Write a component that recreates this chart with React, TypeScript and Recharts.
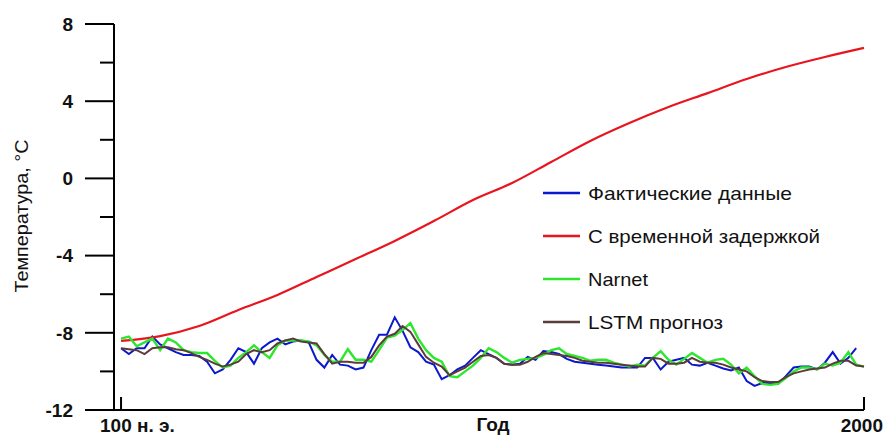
import { Legend, Line, LineChart, XAxis, YAxis } from 'recharts'

// years of the reconstruction, every 20 years
const YEARS = [
  100, 120, 140, 160, 180, 200, 220, 240, 260, 280,
  300, 320, 340, 360, 380, 400, 420, 440, 460, 480,
  500, 520, 540, 560, 580, 600, 620, 640, 660, 680,
  700, 720, 740, 760, 780, 800, 820, 840, 860, 880,
  900, 920, 940, 960, 980, 1000, 1020, 1040, 1060, 1080,
  1100, 1120, 1140, 1160, 1180, 1200, 1220, 1240, 1260, 1280,
  1300, 1320, 1340, 1360, 1380, 1400, 1420, 1440, 1460, 1480,
  1500, 1520, 1540, 1560, 1580, 1600, 1620, 1640, 1660, 1680,
  1700, 1720, 1740, 1760, 1780, 1800, 1820, 1840, 1860, 1880,
  1900, 1920, 1940, 1960, 1980, 2000,
]

const ACTUAL = [
  -8.8, -9.1, -8.8, -8.8, -8.2, -8.6, -8.8, -9.0, -9.15, -9.15,
  -9.2, -9.5, -10.1, -9.9, -9.4, -8.8, -9.0, -9.6, -8.8, -8.5,
  -8.3, -8.6, -8.45, -8.4, -8.5, -9.4, -9.8, -9.15, -9.65, -9.7,
  -9.9, -9.8, -8.9, -8.1, -8.1, -7.2, -7.9, -8.75, -9.0, -9.5,
  -9.65, -10.4, -10.2, -9.9, -9.7, -9.3, -8.9, -9.1, -9.3, -9.6,
  -9.65, -9.6, -9.25, -9.4, -8.95, -9.0, -9.1, -9.35, -9.5, -9.55,
  -9.6, -9.65, -9.7, -9.75, -9.8, -9.8, -9.8, -9.3, -9.3, -9.9,
  -9.5, -9.4, -9.3, -9.65, -9.7, -9.55, -9.7, -9.85, -9.95, -9.8,
  -10.5, -10.75, -10.6, -10.6, -10.65, -10.25, -9.8, -9.75, -9.75, -9.9,
  -9.55, -9.0, -9.6, -9.3, -8.8, null,
]

const NARNET = [
  -8.3, -8.2, -8.7, -8.5, -8.3, -8.9, -8.3, -8.5, -8.9, -9.0,
  -9.05, -9.05, -9.45, -9.8, -9.7, -9.3, -9.0, -8.65, -9.0, -9.3,
  -8.65, -8.4, -8.4, -8.4, -8.45, -8.65, -9.15, -9.5, -9.5, -8.85,
  -9.4, -9.4, -9.5, -8.9, -8.25, -8.15, -7.85, -7.5, -8.3, -8.9,
  -9.3, -9.5, -10.25, -10.3, -10.0, -9.7, -9.3, -8.8, -9.0, -9.3,
  -9.55, -9.4, -9.35, -9.3, -9.15, -8.9, -8.8, -9.1, -9.2, -9.3,
  -9.45, -9.4, -9.4, -9.55, -9.65, -9.75, -9.65, -9.7, -9.3, -8.95,
  -9.4, -9.65, -9.35, -9.05, -9.3, -9.55, -9.4, -9.35, -9.65, -10.1,
  -9.8, -10.25, -10.65, -10.7, -10.65, -10.35, -10.0, -9.8, -9.8, -9.9,
  -9.6, -9.7, -9.55, -9.0, -9.65, -9.75,
]

const LSTM = [
  -8.8, -8.85, -8.9, -9.1, -8.8, -8.75, -8.75, -8.85, -8.9, -9.05,
  -9.25, -9.4, -9.6, -9.75, -9.65, -9.5, -9.1, -8.9, -9.0, -8.9,
  -8.55, -8.4, -8.3, -8.45, -8.5, -8.55, -9.1, -9.6, -9.5, -9.5,
  -9.55, -9.55, -9.25, -8.65, -8.2, -8.05, -7.65, -7.95, -8.6, -9.25,
  -9.55, -9.75, -10.2, -10.0, -9.8, -9.5, -9.2, -9.15, -9.3, -9.6,
  -9.65, -9.65, -9.5, -9.25, -9.05, -9.1, -9.15, -9.2, -9.3, -9.45,
  -9.5, -9.55, -9.55, -9.6, -9.65, -9.7, -9.75, -9.75, -9.3, -9.35,
  -9.6, -9.6, -9.55, -9.3, -9.5, -9.55, -9.55, -9.65, -9.8, -9.9,
  -10.0, -10.3, -10.5, -10.55, -10.55, -10.3, -10.1, -10.0, -9.9, -9.85,
  -9.8, -9.6, -9.45, -9.45, -9.7, -9.75,
]

// time-delay model, smooth curve sampled every century
const DELAY_YEARS = [
  100, 200, 300, 400, 500, 600, 700, 800, 900, 1000,
  1100, 1200, 1300, 1400, 1500, 1600, 1700, 1800, 1900, 2000,
]
const DELAY = [
  -8.42, -8.17, -7.65, -6.82, -6.04, -5.11, -4.18, -3.24, -2.21, -1.12,
  -0.24, 0.85, 1.94, 2.87, 3.7, 4.42, 5.15, 5.77, 6.29, 6.76,
]

const X_TICKS = [100, 2000]
const X_TICK_LABELS: Record<number, string> = { 100: '100 н. э.', 2000: '2000' }
const Y_TICKS = [-12, -10, -8, -6, -4, -2, 0, 2, 4, 6, 8]

const FONT = 'Arial, "Liberation Sans", sans-serif'
const INK = '#111'

const rows = YEARS.map((year, i) => ({
  year,
  actual: ACTUAL[i],
  narnet: NARNET[i],
  lstm: LSTM[i],
}))
const delayRows = DELAY_YEARS.map((year, i) => ({ year, delay: DELAY[i] }))

const LEGEND_ORDER = ['actual', 'delay', 'narnet', 'lstm']
const LEGEND_TEXT_WIDTH: Record<string, number> = { actual: 204, delay: 232, narnet: 60, lstm: 135 }

function YTick({ x, y, payload }: any) {
  const major = payload.value % 4 === 0
  return (
    <g>
      <line x1={x - (major ? 29 : 14)} x2={x} y1={y} y2={y} stroke="#000" strokeWidth={2} />
      {major && (
        <text x={x - 41} y={y} dy="0.36em" textAnchor="end"
          fontFamily={FONT} fontSize={19} fontWeight="bold" fill={INK}>
          {payload.value}
        </text>
      )}
    </g>
  )
}

function XTick({ x, y, payload }: any) {
  const first = payload.value === X_TICKS[0]
  return (
    <g>
      <line x1={x} x2={x} y1={y - 13} y2={y} stroke="#000" strokeWidth={2} />
      <text x={first ? x - 21 : x + 19} y={y + 22} textAnchor={first ? 'start' : 'end'}
        fontFamily={FONT} fontSize={19} fontWeight="bold" fill={INK}>
        {X_TICK_LABELS[payload.value]}
      </text>
    </g>
  )
}

function LegendBox({ payload = [] }: any) {
  const items = [...payload].sort(
    (a: any, b: any) => LEGEND_ORDER.indexOf(a.dataKey) - LEGEND_ORDER.indexOf(b.dataKey),
  )
  return (
    <svg width={300} height={160}>
      {items.map((entry: any, i: number) => (
        <g key={entry.dataKey} transform={`translate(0, ${18 + i * 43})`}>
          <line x1={0} x2={37} y1={0} y2={0} stroke={entry.color} strokeWidth={2.5} />
          <text x={45} y={0} dy="0.36em" fontFamily={FONT} fontSize={19} fill={INK}
            textLength={LEGEND_TEXT_WIDTH[entry.dataKey]} lengthAdjust="spacingAndGlyphs">
            {entry.value}
          </text>
        </g>
      ))}
    </svg>
  )
}

export default function App() {
  return (
    <div style={{ position: 'absolute', top: 0, left: 0, width: 886, height: 437, background: '#fff' }}>
      <LineChart width={886} height={437} data={rows}
        margin={{ top: 24, right: 22, bottom: 0, left: 0 }}>
        <XAxis
          type="number"
          dataKey="year"
          domain={[82, 2000]}
          ticks={X_TICKS}
          height={27}
          tickSize={0}
          tickMargin={0}
          tickLine={false}
          axisLine={{ stroke: '#000', strokeWidth: 2 }}
          tick={<XTick />}
          label={{
            content: () => (
              <text x={493} y={431} textAnchor="middle" fontFamily={FONT}
                fontSize={19} fontWeight="bold" fill={INK}>
                Год
              </text>
            ),
          }}
        />
        <YAxis
          type="number"
          domain={[-12, 8]}
          ticks={Y_TICKS}
          width={114}
          tickSize={0}
          tickMargin={0}
          tickLine={false}
          axisLine={{ stroke: '#000', strokeWidth: 2 }}
          tick={<YTick />}
          label={{
            content: () => (
              <text x={22} y={216} transform="rotate(-90 22 216)" textAnchor="middle"
                dy="0.36em" fontFamily={FONT} fontSize={18} fill={INK}
                textLength={153} lengthAdjust="spacingAndGlyphs">
                Температура, °С
              </text>
            ),
          }}
        />
        <Legend
          layout="horizontal"
          verticalAlign="middle"
          align="center"
          content={<LegendBox />}
          wrapperStyle={{ position: 'absolute', left: 543, top: 175, width: 300, height: 160 }}
        />
        <Line name="Фактические данные" dataKey="actual" stroke="#0c18cc" strokeWidth={2}
          dot={false} type="linear" isAnimationActive={false} />
        <Line name="С временной задержкой" data={delayRows} dataKey="delay" stroke="#e8141e"
          strokeWidth={2.2} dot={false} type="monotone" isAnimationActive={false} />
        <Line name="Narnet" dataKey="narnet" stroke="#2ee62e" strokeWidth={2.4}
          dot={false} type="linear" isAnimationActive={false} />
        <Line name="LSTM прогноз" dataKey="lstm" stroke="#5c3b3b" strokeWidth={2}
          dot={false} type="linear" isAnimationActive={false} />
      </LineChart>
    </div>
  )
}
